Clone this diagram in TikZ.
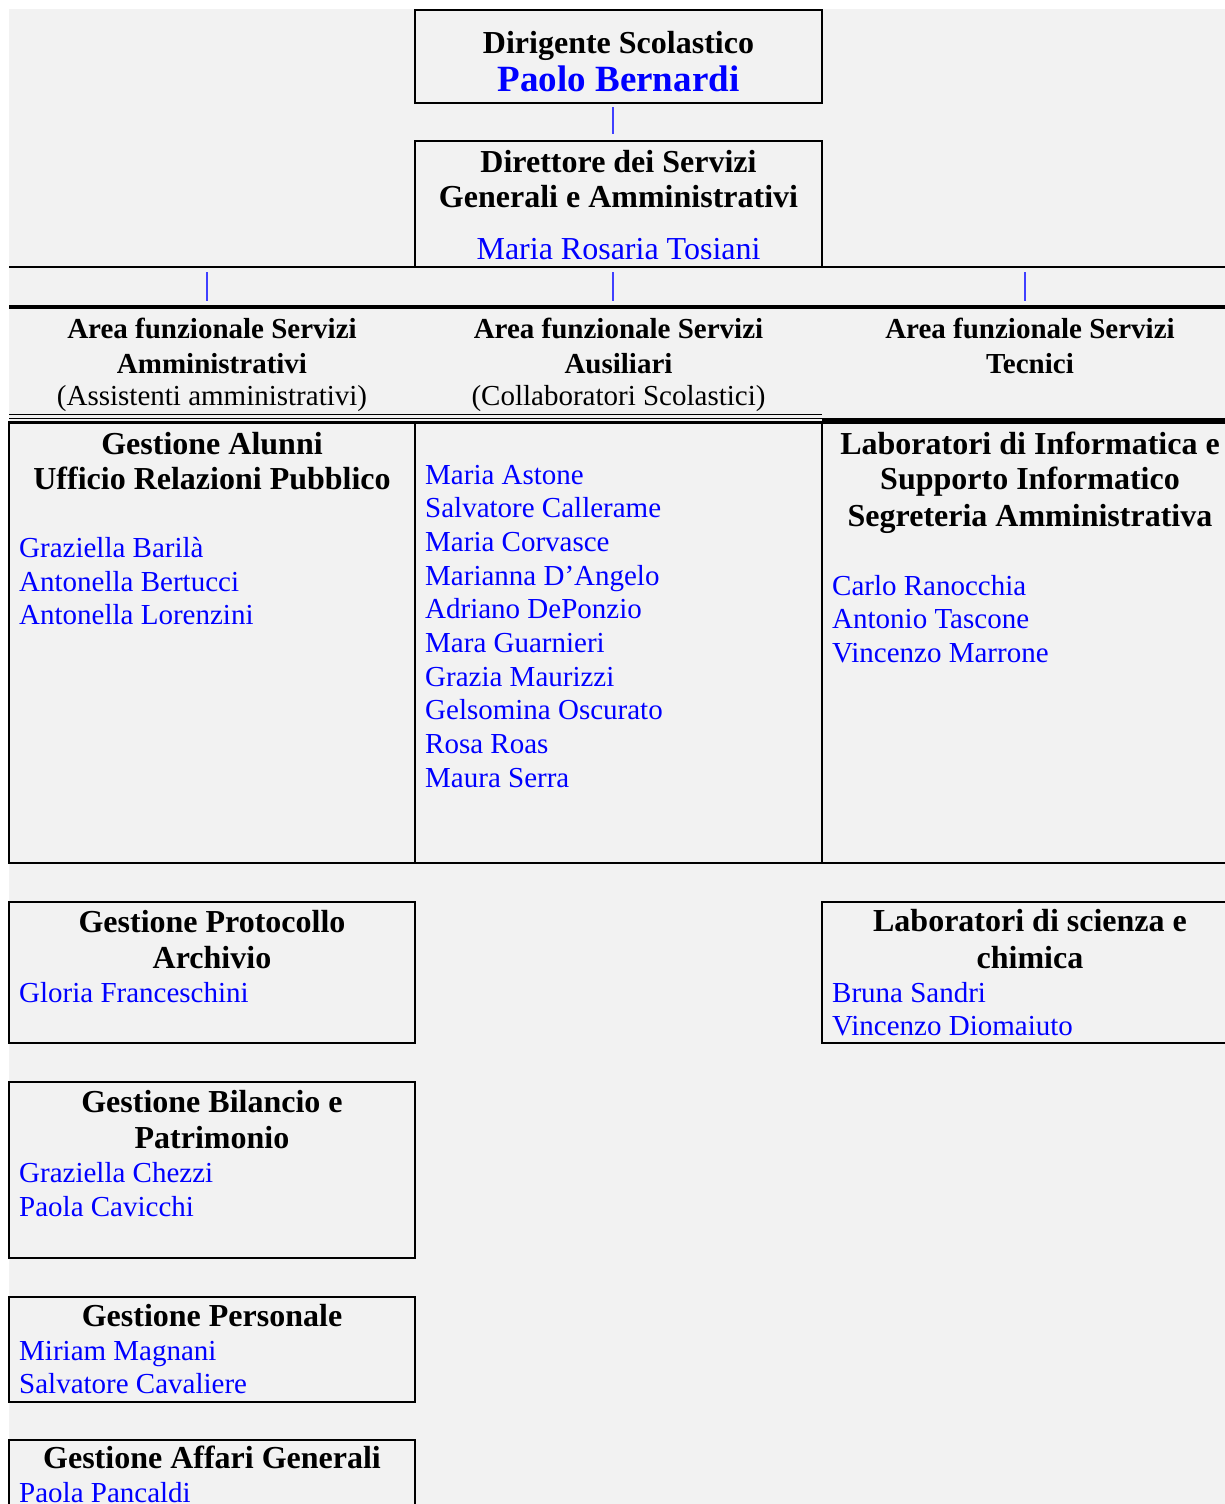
\documentclass[tikz,border=0pt]{standalone}
\usepackage{fontspec}
\setmainfont{Liberation Serif}
\usetikzlibrary{calc}
\definecolor{bg}{RGB}{242,242,242}
\definecolor{nameblue}{RGB}{0,0,255}
\definecolor{tickblue}{RGB}{64,64,255}
\tikzset{
  hd/.style={inner sep=0pt, anchor=base, font=\bfseries\fontsize{32}{38}\selectfont},
  big/.style={inner sep=0pt, anchor=base, text=nameblue, font=\bfseries\fontsize{37}{42}\selectfont},
  dsname/.style={inner sep=0pt, anchor=base, text=nameblue, font=\fontsize{32}{38}\selectfont},
  ar/.style={inner sep=0pt, anchor=base, font=\bfseries\fontsize{29}{34}\selectfont},
  arsub/.style={inner sep=0pt, anchor=base, font=\fontsize{29}{34}\selectfont},
  nm/.style={inner sep=0pt, anchor=base west, text=nameblue, font=\fontsize{29}{34}\selectfont},
  box/.style={draw, line width=2pt, inner sep=0pt},
  bigbox/.style={draw, line width=2.6pt, inner sep=0pt},
  conn/.style={draw=tickblue, line width=1.6pt},
}
\begin{document}
\begin{tikzpicture}[x=1pt,y=-1pt]
\useasboundingbox (0,0) rectangle (1225,1504);
\clip (0,0) rectangle (1225,1504);
\fill[white] (0,0) rectangle (1225,1504);
\fill[bg] (9,9) rectangle (1225,1504);

% top boxes
\node[box, minimum width=407pt, minimum height=93pt] (dir) at (618.5,56.5) {};
\node[box, minimum width=407pt, minimum height=126pt] (dsga) at (618.5,204) {};
\node[hd] (dirT) at (618.5,53) {Dirigente Scolastico};
\node[big] (dirN) at (618.5,92) {Paolo Bernardi};
\node[hd] (dsgaT1) at (618.5,172) {Direttore dei Servizi};
\node[hd] (dsgaT2) at (618.5,207) {Generali e Amministrativi};
\node[dsname] (dsgaN) at (618.5,259) {Maria Rosaria Tosiani};
\draw[conn, shorten <=3pt, shorten >=6pt] ([xshift=-5.5pt]dir.south) -- ([xshift=-5.5pt]dsga.north);

% rules
\coordinate (hlL) at (9,267);   \coordinate (hlR) at (1225,267);
\coordinate (tkL) at (9,307);   \coordinate (tkR) at (1225,307);
\coordinate (dbL) at (9,414.5); \coordinate (dbR) at (822,414.5);
\coordinate (tk2L) at (822,420.5); \coordinate (tk2R) at (1225,420.5);
\draw[line width=1.7pt] (hlL) -- (hlR);
\draw[line width=4pt] (tkL) -- (tkR);
\draw[line width=1.4pt] (dbL) -- (dbR);
\draw[line width=1.4pt] ([yshift=-4pt]dbL) -- ([yshift=-4pt]dbR);
\draw[line width=4.2pt] (tk2L) -- (tk2R);

% ticks
\coordinate (t1a) at (207,272); \coordinate (t1b) at (207,301);
\coordinate (t2a) at (613,272); \coordinate (t2b) at (613,301);
\coordinate (t3a) at (1025,272); \coordinate (t3b) at (1025,301);
\draw[conn] (t1a) -- (t1b);
\draw[conn] (t2a) -- (t2b);
\draw[conn] (t3a) -- (t3b);

% area headers
\node[ar] (a1a) at (212,338) {Area funzionale Servizi};
\node[ar] (a1b) at (212,373) {Amministrativi};
\node[arsub] (a1c) at (212,405) {(Assistenti amministrativi)};
\node[ar] (a2a) at (618.5,338) {Area funzionale Servizi};
\node[ar] (a2b) at (618.5,373) {Ausiliari};
\node[arsub] (a2c) at (618.5,405) {(Collaboratori Scolastici)};
\node[ar] (a3a) at (1030,338) {Area funzionale Servizi};
\node[ar] (a3b) at (1030,373) {Tecnici};

% main row boxes
\node[bigbox, minimum width=406pt, minimum height=440.5pt] (colL) at (212,642.75) {};
\node[bigbox, minimum width=407pt, minimum height=440.5pt] (colM) at (618.5,642.75) {};
\node[bigbox, minimum width=418pt, minimum height=440.5pt] (colR) at (1031,642.75) {};

\node[hd] (gaT1) at (212,454) {Gestione Alunni};
\node[hd] (gaT2) at (212,489) {Ufficio Relazioni Pubblico};
\node[nm] (ga1) at (19,557.7) {Graziella Barilà};
\node[nm] (ga2) at (19,591.3) {Antonella Bertucci};
\node[nm] (ga3) at (19,624.9) {Antonella Lorenzini};

\foreach \n [count=\i from 0] in {Maria Astone, Salvatore Callerame, Maria Corvasce, Marianna D’Angelo, Adriano DePonzio, Mara Guarnieri, Grazia Maurizzi, Gelsomina Oscurato, Rosa Roas, Maura Serra}
  \node[nm] (aus\i) at (425,{484+33.7*\i}) {\n};

\node[hd] (liT1) at (1030,454) {Laboratori di Informatica e};
\node[hd] (liT2) at (1030,489) {Supporto Informatico};
\node[hd] (liT3) at (1030,526) {Segreteria Amministrativa};
\node[nm] (li1) at (832,595) {Carlo Ranocchia};
\node[nm] (li2) at (832,628.5) {Antonio Tascone};
\node[nm] (li3) at (832,662) {Vincenzo Marrone};

% lower boxes
\node[box, minimum width=406pt, minimum height=141pt] (prot) at (212,972.5) {};
\node[hd] (protT1) at (212,932) {Gestione Protocollo};
\node[hd] (protT2) at (212,968) {Archivio};
\node[nm] (prot1) at (19,1002) {Gloria Franceschini};

\node[box, minimum width=418pt, minimum height=141pt] (sci) at (1031,972.5) {};
\node[hd] (sciT1) at (1030,931) {Laboratori di scienza e};
\node[hd] (sciT2) at (1030,968) {chimica};
\node[nm] (sci1) at (832,1002) {Bruna Sandri};
\node[nm] (sci2) at (832,1035) {Vincenzo Diomaiuto};

\node[box, minimum width=406pt, minimum height=176pt] (bil) at (212,1170) {};
\node[hd] (bilT1) at (212,1112) {Gestione Bilancio e};
\node[hd] (bilT2) at (212,1148) {Patrimonio};
\node[nm] (bil1) at (19,1182) {Graziella Chezzi};
\node[nm] (bil2) at (19,1216) {Paola Cavicchi};

\node[box, minimum width=406pt, minimum height=105pt] (pers) at (212,1349.5) {};
\node[hd] (persT) at (212,1326) {Gestione Personale};
\node[nm] (pers1) at (19,1360) {Miriam Magnani};
\node[nm] (pers2) at (19,1393) {Salvatore Cavaliere};

\node[box, minimum width=406pt, minimum height=140pt] (aff) at (212,1510) {};
\node[hd] (affT) at (212,1468) {Gestione Affari Generali};
\node[nm] (aff1) at (19,1502) {Paola Pancaldi};
\end{tikzpicture}
\end{document}
